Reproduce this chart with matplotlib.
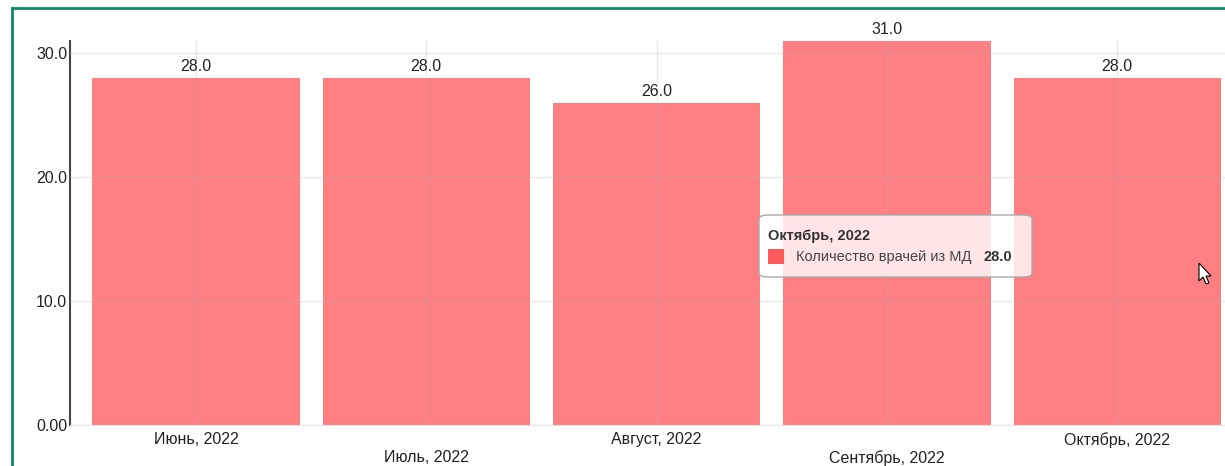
import matplotlib.pyplot as plt
from matplotlib.lines import Line2D
from matplotlib.patches import FancyBboxPatch, Rectangle, Polygon

plt.rcParams['font.family'] = ['Liberation Sans', 'DejaVu Sans']

# Данные
months = ["Июнь, 2022", "Июль, 2022", "Август, 2022", "Сентябрь, 2022", "Октябрь, 2022"]
doctors = [28.0, 28.0, 26.0, 31.0, 28.0]
series_name = "Количество врачей из МД"
y_ticks = [0, 10, 20, 30]
y_tick_labels = ["0.00", "10.0", "20.0", "30.0"]
hover_index = 4

W, H = 1225, 466
fig = plt.figure(figsize=(W / 100, H / 100), dpi=100)
ax = fig.add_axes([70 / W, 41 / H, (W - 70) / W, 384 / H])

x = list(range(len(months)))
ax.bar(x, doctors, width=0.9, color="#ff8082", zorder=1)

for xi, v in zip(x, doctors):
    ax.text(xi, v + 0.3, f"{v:.1f}", ha="center", va="bottom",
            fontsize=11.5, color="#222222")

ax.set_xlim(-0.547, 4.468)
ax.set_ylim(0, max(doctors))
ax.set_yticks(y_ticks)
ax.set_yticklabels(y_tick_labels, fontsize=11.5, color="#222222")
ax.set_xticks(x)
ax.set_xticklabels(months, fontsize=11.5, color="#222222")
for i, lbl in enumerate(ax.get_xticklabels()):
    if i % 2 == 1:
        lbl.set_y(-0.048)
ax.tick_params(axis="both", length=0, pad=2)
ax.tick_params(axis="x", pad=5)

ax.grid(True, color="#b0b0b0", alpha=0.3, linewidth=1, zorder=2)
ax.set_axisbelow(False)
for s in ["top", "right"]:
    ax.spines[s].set_visible(False)
ax.spines["bottom"].set_color("#e6e6e6")
ax.spines["left"].set_color("#444444")
ax.spines["left"].set_linewidth(1.5)

# Рамка (только слева и сверху)
frame_x = 11.5 / W
frame_y = (H - 8) / H
fig.add_artist(Line2D([frame_x, frame_x], [0, frame_y], transform=fig.transFigure,
                      color="#11876e", linewidth=2))
fig.add_artist(Line2D([frame_x, 1], [frame_y, frame_y], transform=fig.transFigure,
                      color="#11876e", linewidth=2))

# Всплывающая подсказка
fig.patches.append(FancyBboxPatch((759 / W, 189 / H), 273 / W, 62 / H,
                                  boxstyle="round,pad=0,rounding_size=0.008",
                                  transform=fig.transFigure,
                                  facecolor=(1, 1, 1, 0.8), edgecolor="#aaaaaa",
                                  linewidth=1, zorder=10))
fig.text(768 / W, (H - 236) / H, months[hover_index], fontsize=10.5,
         fontweight="bold", color="#333333", va="center", zorder=11)
fig.patches.append(Rectangle((768 / W, (H - 264) / H), 16 / W, 15 / H,
                             transform=fig.transFigure, facecolor="#ff5a5e",
                             edgecolor="none", zorder=11))
fig.text(796 / W, (H - 257) / H, series_name, fontsize=10.5,
         color="#444444", va="center", zorder=11)
fig.text(984 / W, (H - 257) / H, f"{doctors[hover_index]:.1f}", fontsize=10.5,
         fontweight="bold", color="#333333", va="center", zorder=11)

# Курсор
cx, cy = 1199, 263
pts = [(0, 0), (0, 18), (4, 14), (7, 21), (10, 20), (7, 13), (12, 13)]
fig.patches.append(Polygon([((cx + dx) / W, (H - cy - dy) / H) for dx, dy in pts],
                           closed=True, transform=fig.transFigure,
                           facecolor="white", edgecolor="black",
                           linewidth=0.8, zorder=12))

fig.savefig("out.png", dpi=100)
plt.close(fig)
